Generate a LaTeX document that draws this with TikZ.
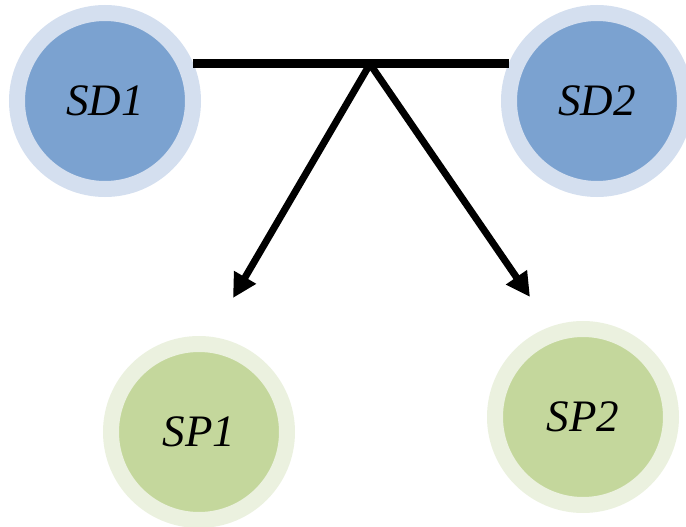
\documentclass[tikz,border=0pt]{standalone}
\usepackage{fontspec}
\setmainfont{Liberation Serif}
\usetikzlibrary{arrows.meta}

\definecolor{sdouter}{HTML}{D4DFEF}
\definecolor{sdinner}{HTML}{7BA2D0}
\definecolor{spouter}{HTML}{EBF1DF}
\definecolor{spinner}{HTML}{C4D79C}

\tikzset{
  sdnode/.style={circle, fill=sdinner, draw=sdouter, line width=16pt,
    minimum size=176pt, inner sep=0pt, font=\fontsize{45}{45}\selectfont\itshape},
  spnode/.style={circle, fill=spinner, draw=spouter, line width=16pt,
    minimum size=176pt, inner sep=0pt, font=\fontsize{45}{45}\selectfont\itshape},
  bar/.style={line width=9pt},
  pointer/.style={line width=7pt, -{Triangle[length=24pt,width=24pt]}}
}

\begin{document}
\begin{tikzpicture}[x=1pt,y=-1pt]
        
            % 画布大小
            \useasboundingbox (0,0) rectangle (686,527);
        
            % 上面两个 SD 圆
            \node[sdnode] (sd1) at (105,101) {SD1};
            \node[sdnode] (sd2) at (597,101) {SD2};
        
            % 下面两个 SP 圆
            \node[spnode] (sp1) at (199,432) {SP1};
            \node[spnode] (sp2) at (583,417) {SP2};
        
            % 分叉点和箭头终点
            \coordinate (mid) at (370,64);
            \coordinate (tip1) at (233,298);
            \coordinate (tip2) at (530,297);
        
            % 从分叉点画两个箭头
            \draw[pointer] (mid) -- (tip1); % 指向 SP1
            \draw[pointer] (mid) -- (tip2); % 指向 SP2
        
            % SD1 与 SD2 之间的横线
            \draw[bar] (sd1.23) -- (sd2.157);
        
        \end{tikzpicture}
\end{document}
